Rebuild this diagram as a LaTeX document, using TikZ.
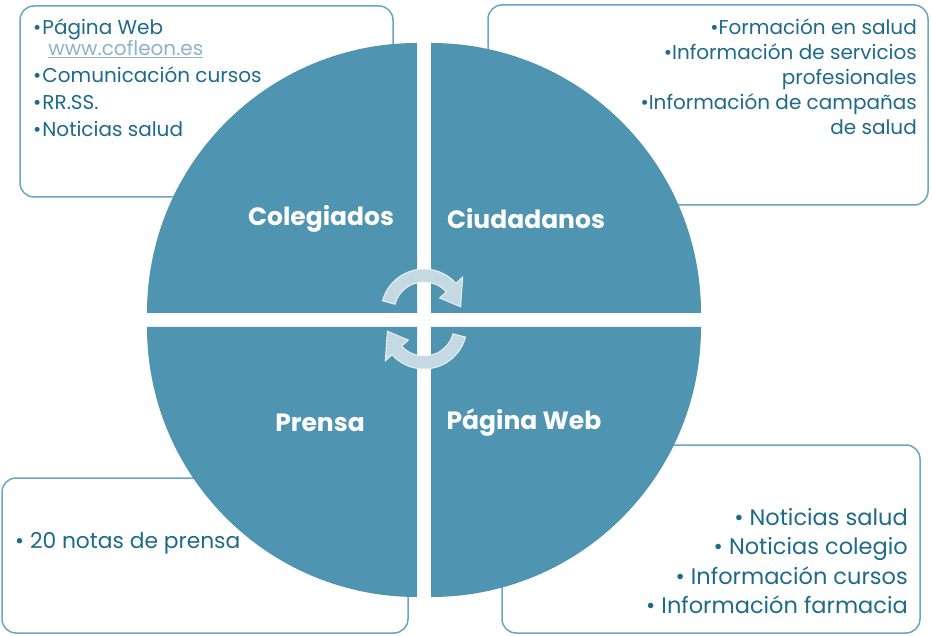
\documentclass[tikz,border=0pt]{standalone}
\usepackage{fontspec}
\setmainfont{Poppins}
\usetikzlibrary{positioning}
\definecolor{quadfill}{HTML}{4F94B0}
\definecolor{boxline}{HTML}{6AA5C2}
\definecolor{txtcol}{HTML}{1D6A8A}
\definecolor{linkcol}{HTML}{8DB3C7}
\definecolor{arrowfill}{HTML}{C5D9E3}
\definecolor{arrowline}{HTML}{E8F0F4}

\begin{document}
\begin{tikzpicture}[x=1pt, y=-1pt,
  infobox/.style={draw=boxline, line width=1.5pt, rounded corners=14pt, fill=white},
  infotext/.style={text=txtcol, inner sep=0pt, font=\fontsize{20}{27}\selectfont},
  infotextbig/.style={text=txtcol, inner sep=0pt, font=\fontsize{22.5}{29.5}\selectfont},
  quadlabel/.style={text=white, font=\fontsize{25}{29}\selectfont\bfseries},
  cycarrow/.style={fill=arrowfill, draw=arrowline, line width=1pt}]
  \useasboundingbox (0,0) rectangle (932,636);

  \node[infobox, minimum width=373pt, minimum height=191pt] (boxColegiados) at (206.5,101.5) {};
  \node[infobox, minimum width=440pt, minimum height=200pt] (boxCiudadanos) at (708,105) {};
  \node[infobox, minimum width=406pt, minimum height=155pt] (boxPrensa) at (205,555.5) {};
  \node[infobox, minimum width=418pt, minimum height=188pt] (boxWeb) at (711,539) {};

  \fill[quadfill] (417,313) -- (147,313) arc[start angle=180, end angle=270, radius=270] -- cycle;
  \fill[quadfill] (431,313) -- (431,43) arc[start angle=270, end angle=360, radius=270] -- cycle;
  \fill[quadfill] (431,327) -- (701,327) arc[start angle=0, end angle=90, radius=270] -- cycle;
  \fill[quadfill] (417,327) -- (417,597) arc[start angle=90, end angle=180, radius=270] -- cycle;

  \begin{scope}[shift={(424,312)}]
    \filldraw[cycarrow] (195:43) arc[start angle=195, end angle=318, radius=43]
      -- (318:52) -- (352:37) -- (318:21) -- (318:30)
      arc[start angle=318, end angle=195, radius=30] -- cycle;
  \end{scope}
  \begin{scope}[shift={(424,326)}, rotate=180]
    \filldraw[cycarrow] (195:43) arc[start angle=195, end angle=318, radius=43]
      -- (318:52) -- (352:37) -- (318:21) -- (318:30)
      arc[start angle=318, end angle=195, radius=30] -- cycle;
  \end{scope}

  \node[quadlabel] (colegiados) at (321,219) {Colegiados};
  \node[quadlabel] (ciudadanos) at (526,219) {Ciudadanos};
  \node[quadlabel] (prensa) at (320,423) {Prensa};
  \node[quadlabel] (web) at (524,423) {Página Web};

  \node[infotext, anchor=north west, align=left] (txtColegiados) at (33,19)
    {\textbullet\hspace{1pt}Página Web\\[-6pt]
     \phantom{\textbullet}\hspace{7pt}{\color{linkcol}\underline{www.cofleon.es}}\\
     \textbullet\hspace{1pt}Comunicación cursos\\
     \textbullet\hspace{1pt}RR.SS.\\
     \textbullet\hspace{1pt}Noticias salud};
  \node[infotext, font=\fontsize{20}{25}\selectfont, anchor=north east, align=right] (txtCiudadanos) at (917,19)
    {\textbullet Formación en salud\\
     \textbullet Información de servicios\\
     profesionales\\
     \textbullet Información de campañas\\
     de salud};
  \node[infotextbig, font=\fontsize{21.8}{29.5}\selectfont, anchor=base west] (txtPrensa) at (15,548) {\textbullet\ 20 notas de prensa};
  \node[infotextbig, anchor=north east, align=right] (txtWeb) at (908,508)
    {\textbullet\ Noticias salud\\
     \textbullet\ Noticias colegio\\
     \textbullet\ Información cursos\\
     \textbullet\ Información farmacia};
\end{tikzpicture}
\end{document}
